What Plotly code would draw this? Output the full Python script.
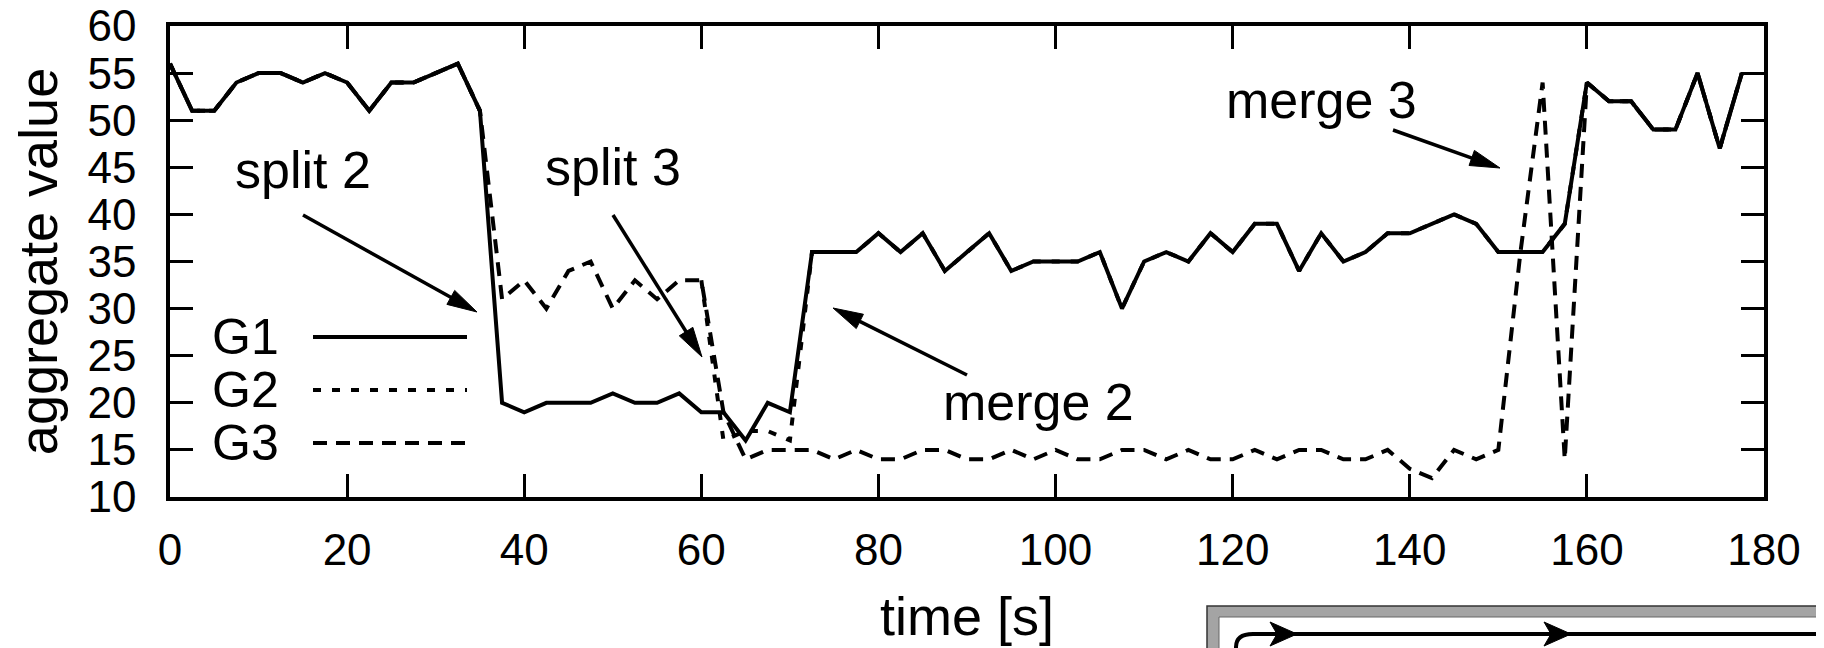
import plotly.graph_objects as go

# ---------------- data ----------------
time_s = [0, 2.5, 5, 7.5, 10, 12.5, 15, 17.5, 20, 22.5, 25, 27.5, 30, 32.5, 35, 37.5,
          40, 42.5, 45, 47.5, 50, 52.5, 55, 57.5, 60, 62.5, 65, 67.5, 70, 72.5, 75, 77.5,
          80, 82.5, 85, 87.5, 90, 92.5, 95, 97.5, 100, 102.5, 105, 107.5, 110, 112.5,
          115, 117.5, 120, 122.5, 125, 127.5, 130, 132.5, 135, 137.5, 140, 142.5, 145,
          147.5, 150, 152.5, 155, 157.5, 160, 162.5, 165, 167.5, 170, 172.5, 175, 177.5]

g1 = [56, 51, 51, 54, 55, 55, 54, 55, 54, 51, 54, 54, 55, 56, 51, 20,
      19, 20, 20, 20, 21, 20, 20, 21, 19, 19, 16, 20, 19, 36, 36, 36,
      38, 36, 38, 34, 36, 38, 34, 35, 35, 35, 36, 30, 35, 36,
      35, 38, 36, 39, 39, 34, 38, 35, 36, 38, 38, 39, 40,
      39, 36, 36, 36, 39, 54, 52, 52, 49, 49, 55, 47, 55]

g2 = [56, 51, 51, 54, 55, 55, 54, 55, 54, 51, 54, 54, 55, 56, 51, None,
      None, None, None, None, None, None, None, None, 33, 16, 17, 17, 16, 36, 36, 36,
      38, 36, 38, 34, 36, 38, 34, 35, 35, 35, 36, 30, 35, 36,
      35, 38, 36, 39, 39, 34, 38, 35, 36, 38, 38, 39, 40,
      39, 36, 36, 36, 39, 54, 52, 52, 49, 49, 55, 47, 55]

g3 = [56, 51, 51, 54, 55, 55, 54, 55, 54, 51, 54, 54, 55, 56, 51, 31,
      33, 30, 34, 35, 30, 33, 31, 33, 33, 19, 14, 15, 15, 15, 14, 15,
      14, 14, 15, 15, 14, 14, 15, 14, 15, 14, 14, 15, 15, 14,
      15, 14, 14, 15, 14, 15, 15, 14, 14, 15, 13, 12, 15,
      14, 15, 36, 54, 14, 54, 52, 52, 49, 49, 55, 47, 55]

series_names = ["G1", "G2", "G3"]
x_ticks = [0, 20, 40, 60, 80, 100, 120, 140, 160, 180]
y_ticks = [10, 15, 20, 25, 30, 35, 40, 45, 50, 55, 60]

# ---------------- geometry (page pixels) ----------------
W, H = 1824, 648
BODY = 8                      # default page margin around the figure
PL, PR, PT, PB = 170, 1764, 26, 497
FONT = "Liberation Sans, Arial, Helvetica, sans-serif"


def px(X):
    return (X - PL) / (PR - PL)


def py(Y):
    return (PB - Y) / (PB - PT)


fig = go.Figure()
fig.add_trace(go.Scatter(x=time_s, y=g2, mode="lines", name="G2",
                         line=dict(color="black", width=4, dash="8px,11px")))
fig.add_trace(go.Scatter(x=time_s, y=g3, mode="lines", name="G3",
                         line=dict(color="black", width=4, dash="14px,9px")))
fig.add_trace(go.Scatter(x=time_s, y=g1, mode="lines", name="G1",
                         line=dict(color="black", width=4)))

shapes = []
annotations = []


def arrow(tail, tip, L=30, w=8, lw=3.5):
    (x0, y0), (x1, y1) = tail, tip
    dx, dy = x1 - x0, y1 - y0
    n = (dx * dx + dy * dy) ** 0.5
    ux, uy = dx / n, dy / n
    bx, by = x1 - ux * L, y1 - uy * L
    nx, ny = -uy, ux
    shapes.append(dict(type="line", xref="paper", yref="paper",
                       x0=px(x0), y0=py(y0), x1=px(bx + ux * 4), y1=py(by + uy * 4),
                       line=dict(color="black", width=lw)))
    path = "M {},{} L {},{} L {},{} Z".format(
        px(x1), py(y1), px(bx + nx * w), py(by + ny * w), px(bx - nx * w), py(by - ny * w))
    shapes.append(dict(type="path", xref="paper", yref="paper", path=path,
                       fillcolor="black", line=dict(color="black", width=1)))


def label(text, X, Y, size=52, xanchor="center"):
    annotations.append(dict(text=text, xref="paper", yref="paper", x=px(X), y=py(Y),
                            xanchor=xanchor, yanchor="middle", showarrow=False,
                            font=dict(family=FONT, size=size, color="black")))


# event annotations
label("split 2", 303, 170)
arrow((303, 215), (477, 312))
label("split 3", 613, 167)
arrow((613, 215), (702, 357))
label("merge 2", 1038, 402)
arrow((967, 375), (833, 308))
label("merge 3", 1321, 100)
arrow((1393, 130), (1500, 168))

# key
key_rows = [(337, "solid"), (390, "8px,11px"), (443, "14px,9px")]
for name, (Yk, dash) in zip(series_names, key_rows):
    label(name, 210, Yk, size=50, xanchor="left")
    shapes.append(dict(type="line", xref="paper", yref="paper",
                       x0=px(313), y0=py(Yk), x1=px(467), y1=py(Yk),
                       line=dict(color="black", width=4, dash=dash)))

# cropped neighbouring figure at the bottom right
shapes.append(dict(type="rect", xref="paper", yref="paper",
                   x0=px(1207), y0=py(606), x1=px(1900), y1=py(700),
                   fillcolor="#a4a4a4", line=dict(color="#333333", width=1.5)))
shapes.append(dict(type="rect", xref="paper", yref="paper",
                   x0=px(1219), y0=py(617), x1=px(1900), y1=py(700),
                   fillcolor="white", line=dict(color="#666666", width=1)))
LINE_Y = 634
curve = "M {},{} L {},{} Q {},{} {},{} L {},{}".format(
    px(1236), py(700), px(1236), py(LINE_Y + 13), px(1236), py(LINE_Y),
    px(1253), py(LINE_Y), px(1900), py(LINE_Y))
shapes.append(dict(type="path", xref="paper", yref="paper", path=curve,
                   line=dict(color="black", width=4)))
for tipx in (1297, 1571):
    tri = "M {},{} L {},{} L {},{} L {},{} Z".format(
        px(tipx), py(LINE_Y), px(tipx - 27), py(LINE_Y - 12), px(tipx - 20), py(LINE_Y),
        px(tipx - 27), py(LINE_Y + 12))
    shapes.append(dict(type="path", xref="paper", yref="paper", path=tri,
                       fillcolor="black", line=dict(color="black", width=1)))

axis_common = dict(showline=True, linewidth=3.5, linecolor="black", mirror="ticks",
                   ticks="inside", ticklen=23, tickwidth=3, tickcolor="black",
                   showgrid=False, zeroline=False, ticklabeloverflow="allow",
                   tickfont=dict(family=FONT, size=44, color="black"))

fig.update_layout(
    width=W, height=H,
    margin=dict(l=PL - BODY, r=W - PR + BODY, t=PT - BODY, b=H - (PB - BODY),
                autoexpand=False),
    paper_bgcolor="white", plot_bgcolor="white",
    showlegend=False,
    xaxis=dict(range=[0, 180], tickvals=x_ticks, ticklabelstandoff=11,
               title=dict(text="time [s]", standoff=26,
                          font=dict(family=FONT, size=54, color="black")),
               **axis_common),
    yaxis=dict(range=[10, 60], tickvals=y_ticks, ticklabelstandoff=21,
               title=dict(text="aggregate value", standoff=18,
                          font=dict(family=FONT, size=54, color="black")),
               **axis_common),
    shapes=shapes,
    annotations=annotations,
)

fig.write_html("out.html")
